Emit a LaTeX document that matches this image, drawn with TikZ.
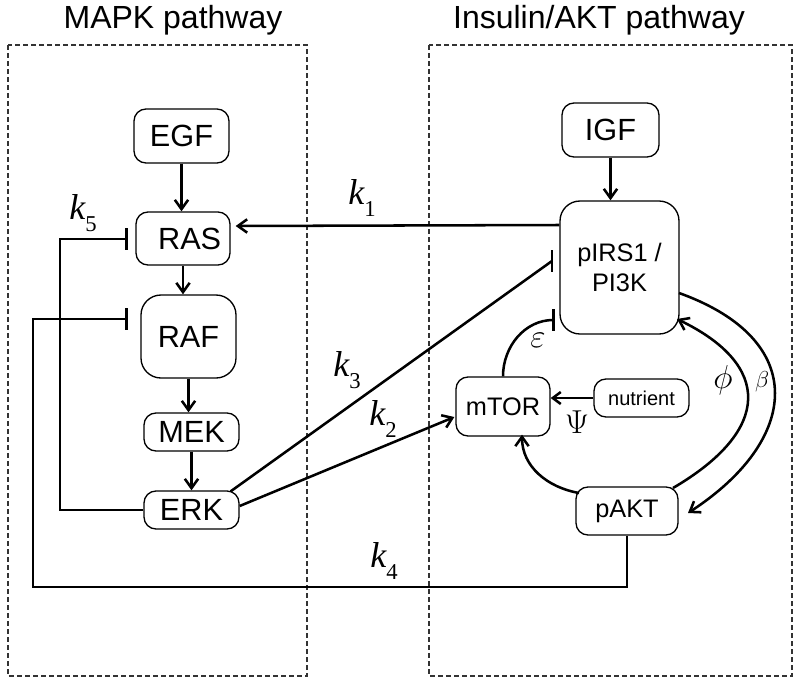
\documentclass[tikz,border=0pt]{standalone}
\usepackage{fontspec}
\setmainfont{Liberation Sans}
\newfontfamily\lserif{Liberation Serif}
\usetikzlibrary{arrows.meta,calc}
\newcommand\klab[1]{{\lserif\itshape k}\raisebox{-0.33em}{\lserif\fontsize{17}{20}\selectfont #1}}
\begin{document}
\begin{tikzpicture}[x=0.75pt,y=-0.75pt,
  box/.style={draw, line width=1pt, rounded corners=9pt, inner sep=0pt, align=center},
  mapk/.style={box, font=\fontsize{23}{27}\selectfont, minimum width=71.25pt},
  akt/.style={box, font=\fontsize{19}{22.5}\selectfont},
  conn/.style={line width=1.9pt},
  arr/.style={conn, -{Straight Barb[length=7pt,width=10pt]}},
  inh/.style={conn, -{Bar[width=16pt]}},
  lab/.style={font=\fontsize{27}{30}\selectfont, inner sep=0pt},
  grk/.style={inner sep=0pt},
  grp/.style={draw=black!80, line width=0.8pt, dash pattern=on 3.5pt off 2.5pt},
  ttl/.style={font=\fontsize{24}{28}\selectfont, anchor=base, inner sep=0pt}
]
\useasboundingbox (0,0) rectangle (800,686);

% group boxes and titles
\draw[grp] (8,45) rectangle (307,676);
\draw[grp] (429,45) rectangle (792,676);
\node[ttl] (t1) at (173,28) {MAPK pathway};
\node[ttl] (t2) at (599,28) {Insulin/AKT pathway};

% MAPK nodes
\node[mapk, minimum height=40.5pt] (EGF) at (181.5,136) {EGF};
\node[mapk, minimum width=70.5pt, minimum height=39.75pt] (RAS) at (183,238.5) {\hspace*{10pt}RAS};
\node[mapk, minimum height=62.25pt, rounded corners=15pt] (RAF) at (188.5,336.5) {RAF};
\node[mapk, minimum height=28.5pt] (MEK) at (191.5,432) {MEK};
\node[mapk, minimum height=28.5pt] (ERK) at (191.5,510) {ERK};

% AKT nodes
\node[mapk, minimum width=72.75pt, minimum height=40.5pt] (IGF) at (610.5,130) {IGF};
\node[akt, minimum width=89.25pt, minimum height=99.75pt, rounded corners=15pt] (PI) at (619.5,267.5) {pIRS1 /\\PI3K};
\node[akt, minimum width=70.5pt, minimum height=44.25pt] (mTOR) at (503,406.5) {mTOR};
\node[box, font=\fontsize{15}{18}\selectfont, minimum width=71.25pt, minimum height=28.5pt] (nut) at (641.5,398) {nutrient};
\node[akt, minimum width=76.5pt, minimum height=36pt] (pAKT) at (627,511) {pAKT};

% MAPK cascade
\draw[arr] (EGF.south) -- (EGF.south |- RAS.north);
\draw[arr] (RAS.south) -- (RAS.south |- RAF.north);
\draw[arr] (RAF.south) -- (RAF.south |- MEK.north);
\draw[arr] (MEK.south) -- (MEK.south |- ERK.north);

% IGF -> PI
\draw[arr] (IGF.south) -- (IGF.south |- PI.north);

% k1
\coordinate (k1s) at ($(PI.west)+(0,-42.5)$);
\coordinate (k1e) at ($(RAS.east)+(5,-12.5)$);
\draw[arr] (k1s) -- (k1e);
\node[lab] (k1) at (362,198) {\klab{1}};

% k5
\coordinate (c5) at (60,239);
\coordinate (k5e) at (128,239);
\draw[inh] (ERK.west) -| (c5) -- (k5e);
\node[lab] (k5) at (83,213) {\klab{5}};

% k4
\coordinate (c4) at (33,587);
\coordinate (k4e) at (128,319);
\draw[inh] (pAKT.south) |- (c4) |- (k4e);
\node[lab] (k4) at (384,561) {\klab{4}};

% k3
\coordinate (k3s) at ($(ERK.north east)+(-9,1)$);
\coordinate (k3e) at (552,261);
\draw[conn] (k3s) -- (k3e);
\draw[conn] ($(k3e)+(0,-11)$) -- ($(k3e)+(0,11)$);
\node[lab] (k3) at (347,370) {\klab{3}};

% k2
\coordinate (k2s) at ($(ERK.east)+(0,-4)$);
\coordinate (k2e) at ($(mTOR.west)+(-1,10.5)$);
\draw[arr] (k2s) -- (k2e);
\node[lab] (k2) at (383,419) {\klab{2}};

% epsilon
\coordinate (epse) at (555,320);
\draw[inh] (mTOR.north) to[out=90,in=180,looseness=1] (epse);
\node[grk, font=\fontsize{27}{30}\selectfont] (eps) at (538,340) {$\varepsilon$};

% nutrient -> mTOR
\draw[conn, -{Straight Barb[length=6pt,width=9pt]}] (nut.west) -- (nut.west -| mTOR.east);
\node[grk, font=\fontsize{25}{28}\selectfont] (psi) at (577,422) {$\Psi$};

% pAKT -> mTOR
\coordinate (pm1) at (579,493);
\coordinate (pm2) at ($(mTOR.south)+(19,-2)$);
\draw[arr] (pm1) to[out=170,in=-90] (pm2);

% phi
\coordinate (ph1) at (673,488);
\coordinate (ph2) at (677,319);
\draw[arr] (ph1) .. controls (772,430) and (772,365) .. (ph2);
\node[grk, font=\fontsize{25}{28}\selectfont] (phi) at (723,380) {$\phi$};

% beta
\coordinate (b1) at (679,293);
\coordinate (b2) at (688,513);
\draw[arr] (b1) .. controls (810,340) and (800,440) .. (b2);
\node[grk, font=\fontsize{17}{20}\selectfont] (beta) at (762,382) {$\beta$};

\end{tikzpicture}
\end{document}
